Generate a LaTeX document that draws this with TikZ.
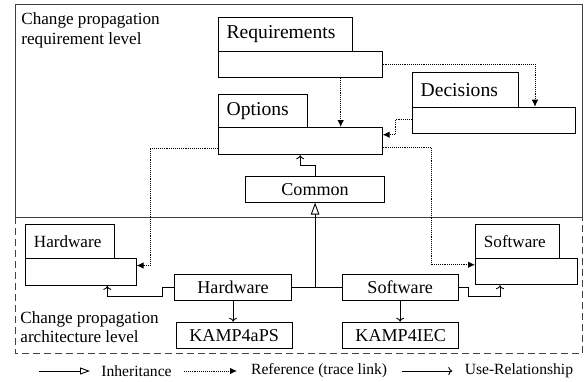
\documentclass[tikz,border=0pt]{standalone}
\usepackage{fontspec}
\setmainfont{Liberation Serif}
\usetikzlibrary{arrows.meta}

\tikzset{
  bigtxt/.style={font=\fontsize{19.6}{22}\selectfont},
  midtxt/.style={font=\fontsize{18.1}{21}\selectfont},
  smalltxt/.style={font=\fontsize{17.1}{19.5}\selectfont},
  legtxt/.style={font=\fontsize{15.6}{18}\selectfont},
  tab/.style={draw, anchor=north west, inner xsep=8.5pt, inner ysep=0pt, align=left},
  body/.style={draw, anchor=north west, inner sep=0pt},
  plain/.style={draw, anchor=north west, inner sep=0pt, midtxt},
  trace/.style={dash pattern=on 0.9pt off 1pt, -{Latex[length=7pt,width=6.5pt]}},
  uses/.style={-{To[length=4pt,width=8pt]}},
  inherit/.style={-{Triangle[open,length=12pt,width=8.5pt]}},
  frame/.style={draw=black!75},
}

\begin{document}
\begin{tikzpicture}[x=1pt, y=-1pt, line width=0.9pt]
  \useasboundingbox (0,0) rectangle (584,381);

  %% level frames
  \draw[frame] (15,4.7) rectangle (582,217.3);
  \draw[frame, dash pattern=on 7pt off 4pt] (15,217.3) rectangle (582.7,353.3);
  \node[smalltxt, anchor=north west, inner sep=0pt, align=left] (reqlevel) at (21,12.5)
    {Change propagation\\requirement level};
  \node[smalltxt, anchor=north west, inner sep=0pt, align=left] (archlevel) at (20,311)
    {Change propagation\\architecture level};

  %% requirement level packages
  \node[tab, bigtxt, text width=117pt, minimum height=34pt] (reqtab) at (217.7,16.7) {Requirements};
  \node[body, minimum width=164pt, minimum height=26.6pt] (reqbody) at (217.7,50.7) {};

  \node[tab, bigtxt, text width=72.6pt, minimum height=32.7pt] (opttab) at (217.7,94.3) {Options};
  \node[body, minimum width=164pt, minimum height=27.3pt] (optbody) at (217.7,127) {};

  \node[tab, bigtxt, text width=89.6pt, minimum height=34.4pt] (dectab) at (411.7,72.3) {Decisions};
  \node[body, minimum width=163.6pt, minimum height=26.6pt] (decbody) at (411.7,106.7) {};

  \node[plain, minimum width=139.3pt, minimum height=26pt] (common) at (245,175.7) {Common};

  %% architecture level packages
  \node[tab, smalltxt, text width=72.3pt, minimum height=33.4pt] (hwtab) at (25,224.3) {Hardware};
  \node[body, minimum width=110.7pt, minimum height=27.3pt] (hwbody) at (25,257.7) {};

  \node[tab, smalltxt, text width=67pt, minimum height=33.7pt] (swtab) at (475,224) {Software};
  \node[body, minimum width=102.3pt, minimum height=26.6pt] (swbody) at (475,257.7) {};

  \node[plain, minimum width=116.7pt, minimum height=26pt] (hwmid) at (174.3,274) {Hardware};
  \node[plain, minimum width=116pt, minimum height=26pt] (swmid) at (341.7,274) {Software};
  \node[plain, minimum width=116pt, minimum height=26pt] (kampaps) at (175.7,321.7) {KAMP4aPS};
  \node[plain, minimum width=116pt, minimum height=26pt] (kampiec) at (342.3,321.7) {KAMP4IEC};

  %% trace links
  \draw[trace] ([xshift=123pt]reqbody.south west) -- ([xshift=123pt]optbody.north west);
  \draw[trace] (reqbody.east) -| ([xshift=123.3pt]decbody.north west);
  \draw[trace] ([yshift=1pt]decbody.west) -- ++(-16.7,0) |- ([yshift=6.4pt]optbody.east);
  \draw[trace] ([yshift=-7pt]optbody.west) -| ([xshift=13.6pt,yshift=6.3pt]hwbody.east)
    -- ([yshift=6.3pt]hwbody.east);
  \draw[trace] ([yshift=-6pt]optbody.east) -| ([xshift=-44pt,yshift=6.7pt]swbody.west)
    -- ([yshift=6.7pt]swbody.west);

  %% use relationships
  \draw[uses] (common.north) -- ++(0,-10) -| (optbody.south);
  \draw[uses] (hwmid.west) -- ++(-11.6,0) -- ++(0,8.7) -| ([xshift=82.3pt]hwbody.south west);
  \draw[uses] (swmid.east) -- ++(9.6,0) -- ++(0,9.4) -| ([xshift=25pt]swbody.south west);
  \draw[uses] (hwmid.south) -- (hwmid.south |- kampaps.north);
  \draw[uses] (swmid.south) -- (swmid.south |- kampiec.north);

  %% inheritance
  \draw (hwmid.east) -- (swmid.west);
  \draw[inherit] (common.south |- hwmid.east) -- (common.south);

  %% legend
  \coordinate (inhA) at (39.3,371);
  \coordinate (inhB) at (90,371);
  \coordinate (refA) at (184,371);
  \coordinate (refB) at (237,371);
  \coordinate (useA) at (402.3,371);
  \coordinate (useB) at (452.3,371);
  \draw[-{Triangle[open,length=10pt,width=7pt]}] (inhA) -- (inhB);
  \draw[trace] (refA) -- (refB);
  \draw[uses] (useA) -- (useB);
  \node[legtxt, anchor=west, inner sep=0pt] (inhtxt) at (101,371) {Inheritance};
  \node[legtxt, anchor=west, inner sep=0pt] (reftxt) at (250.7,371) {Reference (trace link)};
  \node[legtxt, anchor=west, inner sep=0pt] (usetxt) at (464.3,371) {Use-Relationship};
\end{tikzpicture}
\end{document}
